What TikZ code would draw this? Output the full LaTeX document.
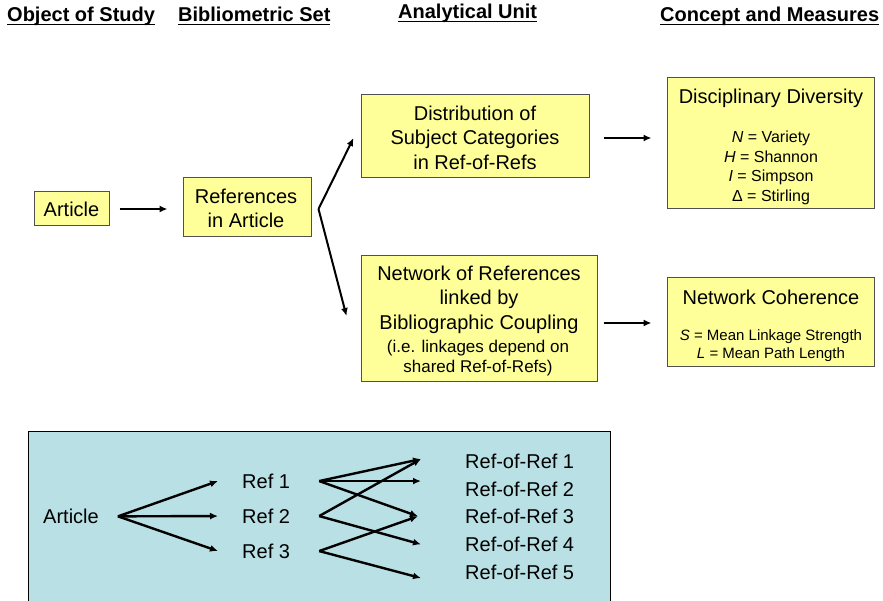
\documentclass[tikz,border=0pt]{standalone}
\usepackage{fontspec}
\setmainfont{Liberation Sans}
\usetikzlibrary{arrows.meta,calc}
\definecolor{boxyellow}{RGB}{255,255,153}
\definecolor{boxedge}{RGB}{80,80,80}
\definecolor{panelteal}{RGB}{185,224,228}
\newcommand{\hdul}[1]{\setbox0\hbox{#1}\rlap{\rule[-3.2pt]{\wd0}{1.6pt}}\box0}
\begin{document}
\begin{tikzpicture}[x=1pt,y=-1pt,
  ybox/.style={draw=boxedge, line width=1pt, fill=boxyellow, inner sep=0pt},
  big/.style={font=\fontsize{20}{24.5}\selectfont, align=center, inner sep=0pt, anchor=north},
  mid/.style={font=\fontsize{17}{20}\selectfont, align=center, inner sep=0pt, anchor=north},
  meas/.style={font=\fontsize{16}{19.4}\selectfont, align=center, inner sep=0pt, anchor=north},
  meassm/.style={font=\fontsize{15}{18}\selectfont, align=center, inner sep=0pt, anchor=north},
  hdr/.style={font=\bfseries\fontsize{20}{24}\selectfont, anchor=base west, inner sep=0pt},
  plain/.style={font=\fontsize{20}{24}\selectfont, anchor=base west, inner sep=0pt},
  arr/.style={line width=2pt, -{Latex[length=8pt,width=7pt]}},
  sarr/.style={line width=2.4pt, -{Latex[length=8pt,width=7pt]}}]
\useasboundingbox (0,0) rectangle (883,601);

% headers
\node[hdr] (h1) at (7,22) {\hdul{Object of Study}};
\node[hdr] (h2) at (178,22) {\hdul{Bibliometric Set}};
\node[hdr] (h3) at (398,19) {\hdul{Analytical Unit}};
\node[hdr] (h4) at (660,22) {\hdul{Concept and Measures}};

% boxes
\node[ybox, minimum width=75pt, minimum height=34pt] (art) at (71.5,209) {};
\node[ybox, minimum width=128pt, minimum height=59pt] (refs) at (247,207.5) {};
\node[ybox, minimum width=228pt, minimum height=83pt] (dist) at (475,136.5) {};
\node[ybox, minimum width=236pt, minimum height=125pt] (net) at (479,318.5) {};
\node[ybox, minimum width=207pt, minimum height=131pt] (div) at (770.5,143.5) {};
\node[ybox, minimum width=207pt, minimum height=88pt] (coh) at (770.5,322) {};

% box texts
\node[big] (art-t) at (71.5,201.8) {Article};
\node[big] (refs-t) at (246,188.8) {References\\in Article};
\node[big] (dist-t) at (475,105.8) {Distribution of\\Subject Categories\\in Ref-of-Refs};
\node[big] (net-t) at (479,265.8) {Network of References\\linked by\\Bibliographic Coupling};
\node[mid] (net-s) at (478,340.2) {(i.e. linkages depend on\\shared Ref-of-Refs)};
\node[big] (div-t) at (771,88.8) {Disciplinary Diversity};
\node[meas] (div-m) at (771,131.2) {\textit{N} = Variety\\\textit{H} = Shannon\\\textit{I} = Simpson\\Δ = Stirling};
\node[big] (coh-t) at (771,289.8) {Network Coherence};
\node[meassm] (coh-m) at (771,329.6) {\textit{S} = Mean Linkage Strength\\\textit{L} = Mean Path Length};

% main connectors
\coordinate (br) at ($(refs.east)+(7,1.5)$);
\draw[arr] ([xshift=10pt]art.east) -- ($(art.east -| refs.west)+(-15,0)$);
\draw[arr] (br) -- ($(dist.west)+(-7,1.5)$);
\draw[arr] (br) -- ($(net.west)+(-14,-2.5)$);
\draw[arr] ($(dist.east)+(14,1.5)$) -- ($(dist.east -| div.west)+(-15,1.5)$);
\draw[arr] ($(net.east)+(6,4.5)$) -- ($(net.east -| coh.west)+(-15,4.5)$);

% bottom panel
\fill[panelteal] (28,431) rectangle (610,610);
\draw[line width=1pt] (28,610) -- (28,431) -- (610,431) -- (610,610);

\node[plain] (a2) at (43,523.5) {Article};
\node[plain] (r1) at (242,488.2) {Ref 1};
\node[plain] (r2) at (242,523.2) {Ref 2};
\node[plain] (r3) at (242,558.2) {Ref 3};
\node[plain] (rr1) at (465,468.7) {Ref-of-Ref 1};
\node[plain] (rr2) at (465,496.2) {Ref-of-Ref 2};
\node[plain] (rr3) at (465,523.9) {Ref-of-Ref 3};
\node[plain] (rr4) at (465,551.5) {Ref-of-Ref 4};
\node[plain] (rr5) at (465,579.2) {Ref-of-Ref 5};

\coordinate (ao) at ($(a2.east)+(19,0)$);
\coordinate (o1) at ($(r1.east)+(29,0)$);
\coordinate (o2) at ($(r2.east)+(29,0)$);
\coordinate (o3) at ($(r3.east)+(29,0)$);
\coordinate (q1) at ($(rr1.west)+(-44,-2.5)$);
\coordinate (q2) at ($(o1 -| rr2.west)+(-44,0)$);
\coordinate (q3) at ($(rr3.west)+(-47,-0.5)$);
\coordinate (q4) at ($(rr4.west)+(-44,0)$);
\coordinate (q5) at ($(rr5.west)+(-44,6)$);

\draw[sarr] (ao) -- ([xshift=-24pt]r1.west);
\draw[sarr] (ao) -- ([xshift=-24pt]r2.west);
\draw[sarr] (ao) -- ([xshift=-24pt]r3.west);
\draw[sarr] (o1) -- (q1);
\draw[sarr] (o1) -- (q2);
\draw[sarr] (o1) -- (q3);
\draw[sarr] (o2) -- (q1);
\draw[sarr] (o2) -- (q4);
\draw[sarr] (o3) -- (q3);
\draw[sarr] (o3) -- (q5);
\end{tikzpicture}
\end{document}
